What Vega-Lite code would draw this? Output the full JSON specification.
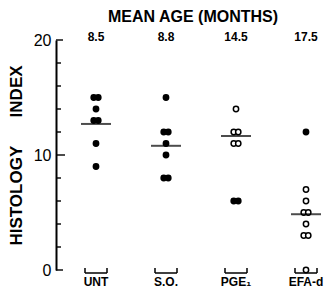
{
  "$schema": "https://vega.github.io/schema/vega-lite/v6.json",
  "width": 274,
  "height": 230,
  "autosize": "none",
  "padding": {"left": 56, "top": 40, "right": 0, "bottom": 26},
  "config": {"font": "Liberation Sans", "view": {"stroke": null}},
  "title": {"text": "MEAN AGE (MONTHS)", "fontSize": 16, "fontWeight": "bold", "anchor": "middle", "offset": 6, "color": "black"},
  "datasets": {
    "points": [
      {"group": "UNT", "value": 15, "fill": "filled"},
      {"group": "UNT", "value": 15, "fill": "filled"},
      {"group": "UNT", "value": 14, "fill": "filled"},
      {"group": "UNT", "value": 13, "fill": "filled"},
      {"group": "UNT", "value": 13, "fill": "filled"},
      {"group": "UNT", "value": 11, "fill": "filled"},
      {"group": "UNT", "value": 9, "fill": "filled"},
      {"group": "S.O.", "value": 15, "fill": "filled"},
      {"group": "S.O.", "value": 12, "fill": "filled"},
      {"group": "S.O.", "value": 12, "fill": "filled"},
      {"group": "S.O.", "value": 11, "fill": "filled"},
      {"group": "S.O.", "value": 10, "fill": "filled"},
      {"group": "S.O.", "value": 8, "fill": "filled"},
      {"group": "S.O.", "value": 8, "fill": "filled"},
      {"group": "PGE₁", "value": 14, "fill": "open"},
      {"group": "PGE₁", "value": 12, "fill": "open"},
      {"group": "PGE₁", "value": 12, "fill": "open"},
      {"group": "PGE₁", "value": 11, "fill": "open"},
      {"group": "PGE₁", "value": 11, "fill": "open"},
      {"group": "PGE₁", "value": 6, "fill": "filled"},
      {"group": "PGE₁", "value": 6, "fill": "filled"},
      {"group": "EFA-d", "value": 12, "fill": "filled"},
      {"group": "EFA-d", "value": 7, "fill": "open"},
      {"group": "EFA-d", "value": 6, "fill": "open"},
      {"group": "EFA-d", "value": 5, "fill": "open"},
      {"group": "EFA-d", "value": 5, "fill": "open"},
      {"group": "EFA-d", "value": 4, "fill": "open"},
      {"group": "EFA-d", "value": 3, "fill": "open"},
      {"group": "EFA-d", "value": 3, "fill": "open"},
      {"group": "EFA-d", "value": 0, "fill": "open"}
    ],
    "groups": [
      {"group": "UNT", "age": "8.5", "mean": 12.7},
      {"group": "S.O.", "age": "8.8", "mean": 10.8},
      {"group": "PGE₁", "age": "14.5", "mean": 11.65},
      {"group": "EFA-d", "age": "17.5", "mean": 4.85}
    ],
    "yticks": [
      {"v": 0, "kind": "end"}, {"v": 2, "kind": "minor"}, {"v": 4, "kind": "minor"}, {"v": 6, "kind": "minor"},
      {"v": 8, "kind": "minor"}, {"v": 10, "kind": "major"}, {"v": 12, "kind": "minor"}, {"v": 14, "kind": "minor"},
      {"v": 16, "kind": "minor"}, {"v": 18, "kind": "minor"}, {"v": 20, "kind": "end"}
    ]
  },
  "encoding": {
    "x": {
      "field": "group", "type": "nominal",
      "scale": {"type": "band", "domain": ["UNT", "S.O.", "PGE₁", "EFA-d"], "range": [5, 285], "paddingInner": 0, "paddingOuter": 0},
      "axis": {"orient": "bottom", "domain": false, "ticks": false, "title": null, "labelAngle": 0,
               "labelFontSize": 12, "labelFontWeight": "bold", "labelColor": "black", "labelPadding": 6}
    }
  },
  "layer": [
    {
      "data": {"name": "points"},
      "transform": [
        {"window": [{"op": "count", "as": "n"}, {"op": "row_number", "as": "r"}], "groupby": ["group", "value", "fill"], "frame": [null, null]},
        {"calculate": "datum.r - (datum.n + 1) / 2", "as": "off"}
      ],
      "mark": {"type": "point", "filled": true, "stroke": "black", "strokeWidth": 1.5, "size": 28, "opacity": 1},
      "encoding": {
        "y": {
          "field": "value", "type": "quantitative",
          "scale": {"domain": [0, 20], "nice": false, "zero": true},
          "axis": {
            "values": [0, 10, 20],
            "grid": false,
            "domainColor": "black", "domainWidth": 2,
            "ticks": false,
            "labelFontSize": 16, "labelColor": "black", "labelPadding": 5,
            "title": "HISTOLOGY\u00a0\u00a0\u00a0\u00a0\u00a0\u00a0INDEX", "titleFontSize": 17, "titleFontWeight": "bold", "titleColor": "black", "titlePadding": 8
          }
        },
        "xOffset": {"field": "off", "type": "quantitative", "scale": {"domain": [-1, 1], "range": [30.5, 39.5]}},
        "fill": {"field": "fill", "type": "nominal", "scale": {"domain": ["filled", "open"], "range": ["black", "white"]}, "legend": null}
      }
    },
    {
      "data": {"name": "groups"},
      "mark": {"type": "tick", "color": "black", "size": 30, "thickness": 2},
      "encoding": {"y": {"field": "mean", "type": "quantitative"}}
    },
    {
      "data": {"name": "groups"},
      "mark": {"type": "text", "fontSize": 12, "fontWeight": "bold", "color": "black", "baseline": "middle", "yOffset": -3},
      "encoding": {"y": {"datum": 20}, "text": {"field": "age"}}
    },
    {
      "data": {"name": "groups"},
      "mark": {"type": "rule", "color": "black", "strokeWidth": 1.5, "xOffset": -11, "x2Offset": 11, "yOffset": 3},
      "encoding": {"x2": {"field": "group"}, "y": {"datum": 0}}
    },
    {
      "data": {"name": "groups"},
      "mark": {"type": "rule", "color": "black", "strokeWidth": 1.5, "xOffset": -11, "yOffset": -2, "y2Offset": 3},
      "encoding": {"y": {"datum": 0}, "y2": {"datum": 0}}
    },
    {
      "data": {"name": "groups"},
      "mark": {"type": "rule", "color": "black", "strokeWidth": 1.5, "xOffset": 11, "yOffset": -2, "y2Offset": 3},
      "encoding": {"y": {"datum": 0}, "y2": {"datum": 0}}
    },
    {
      "data": {"name": "yticks"},
      "transform": [{"filter": "datum.kind === 'minor'"}],
      "mark": {"type": "tick", "color": "black", "thickness": 2, "orient": "horizontal", "size": 5, "xOffset": 2.5},
      "encoding": {"x": {"value": 0}, "y": {"field": "v", "type": "quantitative"}}
    },
    {
      "data": {"name": "yticks"},
      "transform": [{"filter": "datum.kind === 'major'"}],
      "mark": {"type": "tick", "color": "black", "thickness": 2, "orient": "horizontal", "size": 9, "xOffset": 4.5},
      "encoding": {"x": {"value": 0}, "y": {"field": "v", "type": "quantitative"}}
    },
    {
      "data": {"name": "yticks"},
      "transform": [{"filter": "datum.kind === 'end'"}],
      "mark": {"type": "tick", "color": "black", "thickness": 2, "orient": "horizontal", "size": 7, "xOffset": 3.5},
      "encoding": {"x": {"value": 0}, "y": {"field": "v", "type": "quantitative"}}
    }
  ]
}
